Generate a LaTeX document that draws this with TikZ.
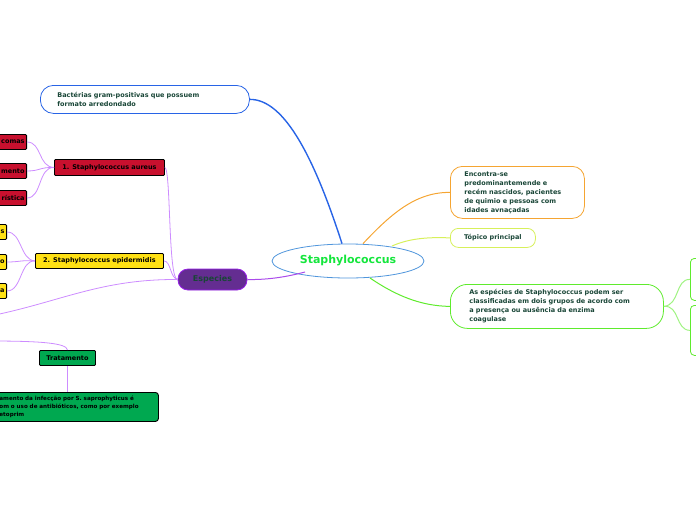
\documentclass[tikz,border=0pt]{standalone}
\usepackage{fontspec}
\setmainfont{DejaVu Sans}
\usetikzlibrary{shapes.geometric,positioning}
\definecolor{txtteal}{RGB}{25,70,55}
\definecolor{linkblue}{RGB}{40,100,230}
\definecolor{linkorange}{RGB}{245,165,50}
\definecolor{linklime}{RGB}{215,240,90}
\definecolor{linkgreen}{RGB}{95,235,45}
\definecolor{rootblue}{RGB}{80,150,220}
\definecolor{roottext}{RGB}{20,230,60}
\definecolor{spfill}{RGB}{100,45,145}
\definecolor{spline}{RGB}{150,30,230}
\definecolor{sublink}{RGB}{205,140,255}
\definecolor{aureusred}{RGB}{200,16,46}
\definecolor{epiyellow}{RGB}{255,225,20}
\definecolor{tratgreen}{RGB}{0,168,80}

\begin{document}
\begin{tikzpicture}[x=1pt, y=-1pt,
  topic/.style={draw, thick, fill=white, text=txtteal, align=left,
                anchor=north west, inner ysep=2pt,
                font=\bfseries\fontsize{6.5}{9}\selectfont},
  sbox/.style={draw=black, line width=0.9pt, rounded corners=1pt,
               inner sep=2pt, minimum height=15pt,
               font=\bfseries\fontsize{6.5}{8}\selectfont},
  leaf/.style={sbox, anchor=east, text width=55pt, align=right},
  sublnk/.style={draw=sublink, line width=0.8pt},
  lnk/.style={draw, line width=1pt}
]
\useasboundingbox (0,0) rectangle (696,520);
\clip (0,0) rectangle (696,520);

% central topic
\node[ellipse, draw=rootblue, thick, fill=white, minimum width=152pt,
      minimum height=34pt, text=roottext,
      font=\bfseries\fontsize{11}{13}\selectfont] (root) at (348,261)
  {Staphylococcus};

% main topics
\node[topic, draw=linkblue, rounded corners=13pt, minimum height=28pt,
      text width=175pt, inner xsep=17pt] (gram) at (40,85)
  {Bactérias gram-positivas que possuem\\formato arredondado};
\node[topic, draw=linkorange, rounded corners=12pt, minimum height=52pt,
      text width=106pt, inner xsep=14pt] (idades) at (450,166)
  {Encontra-se\\predominantemende e\\recém nascidos, pacientes\\de quimio e pessoas com\\idades avnaçadas};
\node[topic, draw=linklime, rounded corners=8pt, minimum height=19pt,
      minimum width=85pt, align=center] (topico) at (450,228)
  {Tópico principal};
\node[topic, draw=linkgreen, rounded corners=17pt, minimum height=44pt,
      text width=175pt, inner xsep=19pt] (grupos) at (450,284)
  {As espécies de Staphylococcus podem ser\\classificadas em dois grupos de acordo com\\a presença ou ausência da enzima\\coagulase};
\node[topic, draw=linkgreen, rounded corners=4pt, minimum height=42pt,
      minimum width=40pt] (coagpos) at (690,258) {};
\node[topic, draw=linkgreen, rounded corners=4pt, minimum height=50pt,
      minimum width=40pt] (coagneg) at (690,305) {};

\node[draw=spline, thick, fill=spfill, rounded corners=10pt,
      minimum width=69pt, minimum height=21pt, text=txtteal,
      font=\bfseries\fontsize{8}{10}\selectfont] (especies) at (212.5,279.5)
  {Especies};

% species
\node[sbox, fill=aureusred, anchor=north west, minimum width=110pt,
      minimum height=16pt] (aureus) at (54,159) {1. Staphylococcus aureus};
\node[leaf, fill=aureusred] (au1) at (27,142) {comas};
\node[leaf, fill=aureusred] (au2) at (27,171) {mento};
\node[leaf, fill=aureusred] (au3) at (27,198) {rística};

\node[sbox, fill=epiyellow, anchor=north west, minimum width=128pt]
  (epi) at (35,253) {2. Staphylococcus epidermidis};
\node[leaf, fill=epiyellow] (ep1) at (7,232) {s};
\node[leaf, fill=epiyellow] (ep2) at (7,262) {o};
\node[leaf, fill=epiyellow] (ep3) at (7,291) {a};

\node[sbox, fill=tratgreen, anchor=north west, minimum width=56pt]
  (trat) at (39,350) {Tratamento};
\node[sbox, fill=tratgreen, anchor=north west, rounded corners=3pt,
      text width=156pt, inner xsep=3pt, minimum height=29pt, align=left,
      font=\bfseries\fontsize{5.6}{8}\selectfont] (tratinfo) at (-4,392)
  {amento da infecção por S. saprophyticus é\\om o uso de antibióticos, como por exemplo\\etoprim};

\coordinate (sapro) at (-10,316);
\coordinate (saproB) at (-10,341);

% connectors
\draw[lnk, linkblue, line width=1.4pt] ([xshift=-6pt]root.north)
  .. controls (315,160) and (285,99) .. (gram.east);
\draw[lnk, linkorange] ([xshift=15pt]root.north)
  .. controls (390,215) and (415,192) .. (idades.west);
\draw[lnk, linklime] (392,246) .. controls (410,238) and (430,237) .. (topico.west);
\draw[lnk, linkgreen] (370,278) .. controls (395,295) and (420,306) .. (grupos.west);
\draw[lnk, linkgreen!60] (grupos.east) .. controls (680,305) and (675,279) .. (coagpos.west);
\draw[lnk, linkgreen!60] (grupos.east) .. controls (680,305) and (675,330) .. (coagneg.west);

\draw[lnk, spline!80] (especies.east) .. controls (270,280) and (290,276) .. (305,272);
\draw[sublnk] (especies.west) .. controls (168,280) and (171,170) .. (aureus.east);
\draw[sublnk] (especies.west) .. controls (170,278) and (171,261) .. (epi.east);
\draw[sublnk] (especies.west) .. controls (100,279) and (60,302) .. (sapro);

\draw[sublnk] (aureus.west) .. controls (38,167) and (42,142) .. (au1.east);
\draw[sublnk] (aureus.west) .. controls (40,167) and (40,171) .. (au2.east);
\draw[sublnk] (aureus.west) .. controls (38,167) and (42,198) .. (au3.east);
\draw[sublnk] (epi.west) .. controls (20,260) and (22,232) .. (ep1.east);
\draw[sublnk] (epi.west) .. controls (20,260) and (20,262) .. (ep2.east);
\draw[sublnk] (epi.west) .. controls (20,260) and (22,291) .. (ep3.east);

\draw[sublnk] (saproB) .. controls (40,341) and (67,343) .. (trat.north);
\draw[sublnk] (trat.south) -- (trat.south |- tratinfo.north);
\end{tikzpicture}
\end{document}
